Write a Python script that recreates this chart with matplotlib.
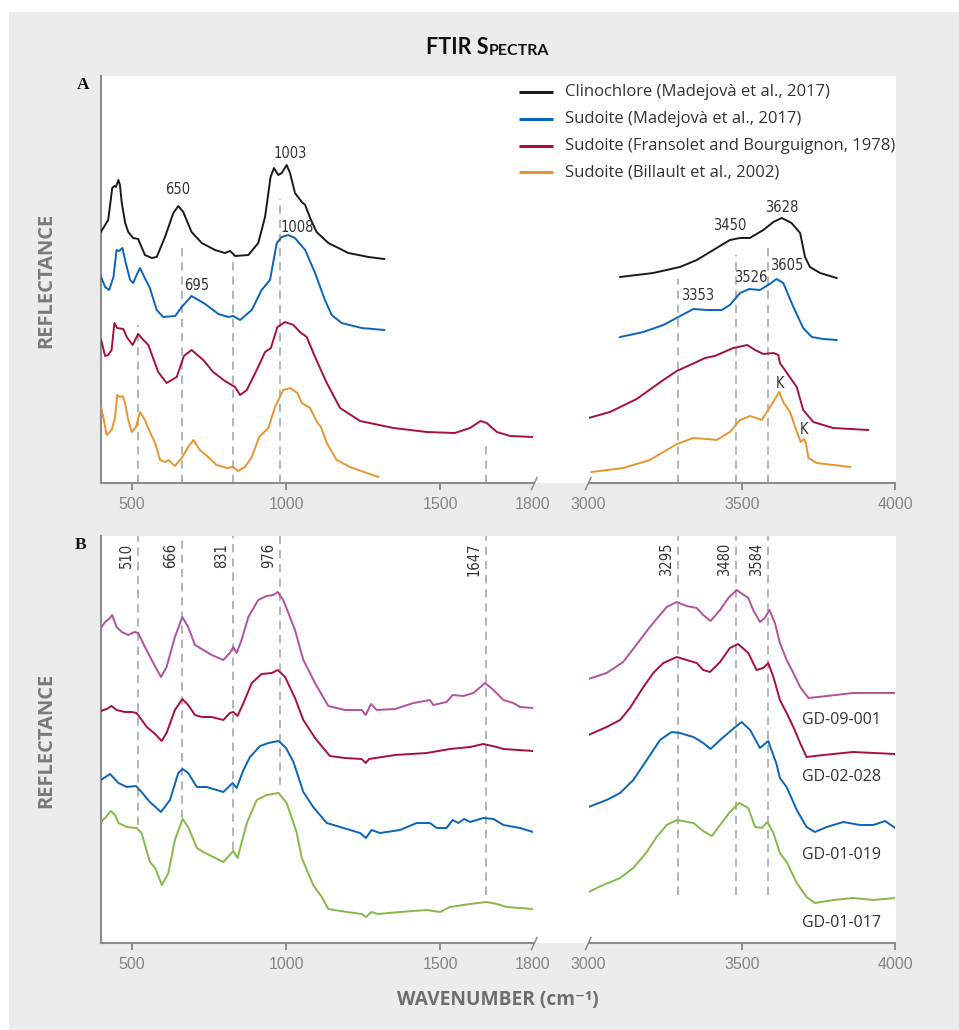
"""FTIR spectra of sudoite reference samples and GD samples (two panels, broken x axis)."""

import matplotlib
matplotlib.use("Agg")
import matplotlib.pyplot as plt
import numpy as np

# ── panel A: reference spectra (wavenumber, offset reflectance) ──────────────

CLINO_WN = [400, 424, 437, 444, 449, 457, 462, 468, 479, 489, 505, 521, 532, 543, 565, 581,
            608, 635, 651, 667, 694, 727, 770, 802, 819, 835, 878, 910, 932, 950, 961, 975,
            986, 1002, 1013, 1029, 1051, 1062, 1078, 1099, 1137, 1202, 1267, 1318,
            3103, 3211, 3298, 3353, 3407, 3461, 3494, 3526, 3570, 3603, 3630, 3662, 3690,
            3706, 3722, 3755, 3809]
CLINO_R = [251, 263, 295, 297, 296, 303, 298, 280, 260, 251, 245, 244, 236, 228, 225, 226,
           246, 270, 277, 271, 251, 240, 233, 230, 232, 227, 228, 240, 266, 306, 315, 308,
           310, 318, 310, 290, 281, 278, 265, 251, 240, 230, 226, 224,
           206, 210, 216, 223, 233, 243, 245, 245, 253, 261, 265, 260, 250,
           226, 216, 210, 205]

SUD_MAD_WN = [401, 414, 427, 441, 451, 459, 470, 481, 495, 505, 516, 527, 541, 559, 581, 602,
              641, 662, 694, 716, 738, 781, 813, 829, 851, 889, 921, 948, 970, 986, 1007, 1029,
              1062, 1094, 1126, 1148, 1180, 1245, 1318,
              3103, 3179, 3244, 3293, 3342, 3385, 3434, 3461, 3494, 3524, 3559, 3586, 3613,
              3635, 3668, 3700, 3728, 3766, 3809]
SUD_MAD_R = [206, 196, 193, 206, 233, 232, 235, 220, 203, 200, 208, 215, 206, 195, 173, 166,
             167, 176, 187, 183, 179, 169, 166, 167, 163, 173, 193, 203, 240, 246, 248, 245,
             233, 210, 183, 168, 160, 155, 153,
             146, 151, 158, 166, 174, 173, 173, 178, 190, 194, 193, 198, 204,
             200, 176, 155, 146, 144, 143]

SUD_FRA_WN = [401, 414, 424, 435, 444, 453, 473, 484, 503, 521, 532, 554, 586, 613, 646, 669,
              694, 732, 764, 802, 835, 851, 873, 905, 932, 951, 972, 997, 1024, 1045, 1067,
              1094, 1132, 1175, 1240, 1348, 1456, 1547, 1596, 1630, 1650, 1683, 1726, 1800,
              3000, 3070, 3157, 3244, 3288, 3331, 3380, 3412, 3472, 3518, 3543, 3570, 3603,
              3619, 3624, 3679, 3700, 3733, 3798, 3912]
SUD_FRA_R = [143, 127, 128, 133, 160, 155, 154, 146, 138, 149, 145, 138, 111, 100, 106, 127,
             133, 123, 111, 102, 96, 88, 93, 113, 131, 135, 156, 161, 158, 151, 146,
             126, 100, 75, 62, 55, 51, 50, 55, 62, 60, 51, 47, 46,
             65, 71, 84, 103, 112, 118, 125, 127, 135, 138, 133, 129, 130,
             128, 120, 96, 73, 61, 55, 53]

SUD_BIL_WN = [401, 408, 419, 435, 446, 453, 462, 471, 478, 489, 500, 514, 527, 543, 559, 576,
              592, 608, 619, 640, 662, 683, 700, 721, 748, 775, 808, 829, 845, 867, 889, 913,
              943, 964, 991, 1013, 1037, 1051, 1078, 1100, 1113, 1132, 1164, 1207, 1299,
              3010, 3113, 3200, 3288, 3342, 3386, 3418, 3461, 3494, 3527, 3565, 3592, 3622,
              3635, 3657, 3677, 3692, 3703, 3709, 3717, 3744, 3853]
SUD_BIL_R = [76, 66, 48, 53, 65, 88, 86, 87, 81, 63, 51, 56, 71, 63, 51, 40,
             23, 21, 23, 17, 25, 36, 43, 33, 26, 18, 15, 16, 12, 16, 26, 46,
             55, 76, 93, 95, 90, 80, 75, 61, 56, 40, 23, 16, 6,
             11, 15, 23, 39, 45, 44, 43, 51, 63, 67, 63, 76, 91,
             81, 71, 53, 41, 44, 40, 25, 20, 16]

REF_LABELS = ["Clinochlore (Madejovà et al., 2017)", "Sudoite (Madejovà et al., 2017)",
              "Sudoite (Fransolet and Bourguignon, 1978)", "Sudoite (Billault et al., 2002)"]

# peak labels in panel A: text, wavenumber, height
A_PEAK_TEXT = ["650", "1003", "1008", "695", "3450", "3628", "3353", "3526", "3605", "K", "K"]
A_PEAK_WN = [649, 1013, 1035, 711, 3459, 3630, 3355, 3530, 3646, 3624, 3704]
A_PEAK_R = [293, 329, 256, 198, 257, 276, 187, 205, 217, 100, 53]

# dashed guide lines in panel A: wavenumber and top of line
A_GUIDE_WN = [520, 664, 829, 980, 1647, 3292, 3480, 3584]
A_GUIDE_TOP = [158, 240, 223, 284, 41, 204, 228, 240]

# ── panel B: GD samples ──────────────────────────────────────────────────────

GD09_WN = [400, 414, 430, 437, 451, 468, 489, 509, 521, 543, 570, 595, 613, 640, 664, 683,
           705, 727, 759, 797, 818, 829, 840, 856, 878, 910, 937, 959, 973, 991, 1029, 1056,
           1094, 1137, 1191, 1245, 1258, 1275, 1294, 1353, 1413, 1466, 1477, 1520, 1540,
           1574, 1607, 1645, 1672, 1704, 1736, 1758, 1800,
           3000, 3059, 3113, 3168, 3200, 3255, 3288, 3320, 3353, 3374, 3398, 3429, 3456,
           3483, 3521, 3537, 3559, 3575, 3590, 3608, 3624, 3646, 3668, 3690, 3717, 3777,
           3863, 3929, 4000]
GD09_R = [315, 321, 325, 328, 316, 311, 308, 311, 310, 296, 280, 266, 276, 306, 326, 316,
          298, 294, 288, 283, 290, 296, 290, 303, 326, 343, 347, 348, 351, 343, 313, 283,
          260, 237, 233, 233, 228, 239, 233, 234, 240, 243, 238, 241, 248,
          247, 250, 260, 253, 243, 240, 236, 235,
          264, 270, 281, 303, 316, 336, 341, 337, 335, 328, 322, 333, 345,
          353, 345, 333, 321, 325, 333, 320, 300, 283, 270, 256, 245, 247,
          250, 250, 250]

GD02_WN = [400, 419, 435, 451, 478, 500, 516, 549, 576, 597, 613, 640, 664, 683, 705, 727,
           759, 797, 818, 829, 843, 862, 889, 921, 954, 973, 997, 1029, 1056, 1094, 1142,
           1191, 1245, 1258, 1269, 1353, 1456, 1531, 1596, 1639, 1683, 1704, 1800,
           3000, 3059, 3103, 3135, 3179, 3211, 3244, 3288, 3320, 3353, 3374, 3396, 3429,
           3461, 3488, 3521, 3548, 3570, 3586, 3603, 3624, 3646, 3668, 3690, 3711, 3766,
           3863, 4000]
GD02_R = [232, 234, 237, 233, 231, 231, 230, 216, 209, 202, 210, 233, 244, 238, 228, 226,
          226, 223, 230, 231, 227, 240, 260, 269, 270, 273, 266, 245, 223, 205, 187,
          185, 184, 180, 184, 188, 190, 194, 196, 199, 196, 194, 192,
          208, 216, 223, 235, 256, 270, 280, 286, 283, 280, 273, 271, 281,
          295, 299, 290, 273, 275, 280, 266, 243, 230, 216, 200, 186, 188,
          191, 189]

GD0119_WN = [400, 430, 457, 484, 514, 532, 559, 595, 624, 651, 665, 683, 711, 743, 797, 827,
             840, 862, 883, 916, 943, 976, 1000, 1024, 1056, 1088, 1132, 1186, 1240, 1259,
             1277, 1304, 1369, 1423, 1466, 1488, 1520, 1540, 1558, 1577, 1596, 1639, 1672,
             1704, 1758, 1800,
             3000, 3059, 3103, 3146, 3190, 3233, 3271, 3298, 3342, 3374, 3398, 3429, 3467,
             3499, 3527, 3559, 3586, 3613, 3624, 3646, 3679, 3711, 3738, 3777, 3831, 3885,
             3929, 3967, 4000]
GD0119_R = [163, 169, 160, 156, 157, 151, 141, 131, 143, 170, 174, 170, 156, 156, 151, 160,
            155, 173, 186, 197, 200, 202, 195, 181, 151, 136, 120, 115, 110, 105,
            113, 110, 113, 120, 120, 115, 115, 123, 120, 124, 121, 125, 124,
            118, 115, 111,
            136, 143, 150, 163, 183, 203, 211, 210, 206, 200, 194, 203, 213,
            221, 213, 195, 202, 179, 165, 156, 133, 116, 111, 116, 121, 118,
            118, 122, 115]

GD0117_WN = [400, 414, 432, 446, 457, 484, 516, 532, 559, 576, 598, 619, 640, 665, 683, 711,
             732, 764, 797, 829, 843, 873, 905, 937, 976, 1002, 1034, 1051, 1088, 1116, 1137,
             1197, 1245, 1259, 1277, 1299, 1369, 1456, 1499, 1531, 1596, 1650, 1683, 1715,
             1800,
             3000, 3048, 3103, 3146, 3190, 3222, 3255, 3288, 3342, 3374, 3402, 3429, 3461,
             3491, 3521, 3543, 3565, 3583, 3603, 3624, 3646, 3679, 3711, 3738, 3798, 3863,
             3929, 4000]
GD0117_R = [121, 125, 132, 128, 120, 116, 115, 110, 81, 75, 58, 70, 103, 124, 116, 95,
            91, 86, 81, 92, 85, 120, 143, 148, 150, 140, 111, 85, 58, 46, 34,
            31, 29, 26, 31, 29, 31, 33, 31, 36, 39, 41, 39, 36,
            34,
            51, 58, 65, 75, 91, 106, 118, 123, 120, 112, 107, 118, 131,
            140, 135, 116, 115, 121, 110, 90, 81, 60, 46, 40, 43, 45,
            43, 45]

GD_LABELS = ["GD-09-001", "GD-02-028", "GD-01-019", "GD-01-017"]
GD_LABEL_R = [223, 166, 88, 20]
GD_LABEL_WN = 3696

# dashed guide lines in panel B: label, wavenumber, bottom of line
B_GUIDE_TEXT = ["510", "666", "831", "976", "1647", "3295", "3480", "3584"]
B_GUIDE_WN = [520, 664, 829, 980, 1647, 3292, 3480, 3584]
B_GUIDE_BOTTOM = [118, 125, 93, 158, 48, 48, 48, 48]

# ── style ────────────────────────────────────────────────────────────────────

W, H = 959, 1030
REF_COLORS = ["#1a1a1a", "#0a64b8", "#a6113b", "#e8952f"]
GD_COLORS = ["#b0529c", "#a6113b", "#0a64b8", "#86b849"]
GRAY_BG = "#ececec"
AXIS_GRAY = "#8c8c8c"
TEXT_DARK = "#333333"
SOFT = ["Open Sans", "DejaVu Sans"]
NARROW = dict(family="DejaVu Sans", fontstretch="condensed")

fig = plt.figure(figsize=(W / 100, H / 100), dpi=100)
fig.patch.set_facecolor("white")

# background in pixel coordinates
bg = fig.add_axes([0, 0, 1, 1], zorder=-5)
bg.set_xlim(0, W)
bg.set_ylim(H, 0)
bg.axis("off")
bg.add_patch(plt.Rectangle((9, 12), W, H, color=GRAY_BG, lw=0))
for top in (76, 536):
    bg.add_patch(plt.Rectangle((100, top), 796, 407, color="white", lw=0))

# overlay for free text in pixel coordinates
ov = fig.add_axes([0, 0, 1, 1], zorder=5)
ov.set_xlim(0, W)
ov.set_ylim(H, 0)
ov.axis("off")

X_L0, X_L1 = 100.8, 533.0   # 400 .. 1800
X_R0, X_R1 = 588.5, 895.2   # 3000 .. 4000


def make_axes(bottom_px):
    h = 407 / H
    y0 = (H - bottom_px) / H
    ax_l = fig.add_axes([X_L0 / W, y0, (X_L1 - X_L0) / W, h])
    ax_r = fig.add_axes([X_R0 / W, y0, (X_R1 - X_R0) / W, h])
    for ax in (ax_l, ax_r):
        ax.set_facecolor("none")
        ax.set_ylim(0, 407)
        ax.set_yticks([])
        for s in ("top", "right", "left"):
            ax.spines[s].set_visible(False)
        ax.spines["bottom"].set_color(AXIS_GRAY)
        ax.spines["bottom"].set_linewidth(1.5)
        ax.tick_params(axis="x", direction="out", length=5, width=1.4, color=AXIS_GRAY,
                       labelcolor="#858585", labelsize=11.5, pad=5,
                       labelfontfamily="Liberation Sans")
    ax_l.spines["left"].set_visible(True)
    ax_l.spines["left"].set_color(AXIS_GRAY)
    ax_l.spines["left"].set_linewidth(1.5)
    ax_l.set_xlim(400, 1800)
    ax_r.set_xlim(3000, 4000)
    ax_l.set_xticks([500, 1000, 1500, 1800])
    ax_r.set_xticks([3000, 3500, 4000])
    ax_l.xaxis.get_major_ticks()[-1].tick1line.set_visible(False)
    ax_r.xaxis.get_major_ticks()[0].tick1line.set_visible(False)
    # break marks
    dy = bottom_px
    ov.plot([X_L1 - 1.5, X_L1 + 4], [dy + 6.5, dy - 5.5], color=AXIS_GRAY, lw=1.1)
    ov.plot([X_R0 - 3, X_R0 + 2.5], [dy + 6.5, dy - 5.5], color=AXIS_GRAY, lw=1.1)
    return ax_l, ax_r


def draw(ax_l, ax_r, wn, r, color):
    wn = np.asarray(wn)
    r = np.asarray(r)
    m = wn < 2400
    ax_l.plot(wn[m], r[m], color=color, lw=1.4, zorder=3, solid_joinstyle="round")
    ax_r.plot(wn[~m], r[~m], color=color, lw=1.4, zorder=3, solid_joinstyle="round")


def pick(ax_l, ax_r, x):
    return ax_l if x < 2400 else ax_r


DASH = dict(colors="#a8a8a8", linestyles=(0, (5, 3.5)), linewidth=1.2, zorder=1)

# ── panel A ──────────────────────────────────────────────────────────────────

aA_l, aA_r = make_axes(483)
for x, top in zip(A_GUIDE_WN, A_GUIDE_TOP):
    pick(aA_l, aA_r, x).vlines(x, 0, top, **DASH)
for (wn, r), c in zip([(CLINO_WN, CLINO_R), (SUD_MAD_WN, SUD_MAD_R),
                       (SUD_FRA_WN, SUD_FRA_R), (SUD_BIL_WN, SUD_BIL_R)], REF_COLORS):
    draw(aA_l, aA_r, wn, r, c)
for t, x, y in zip(A_PEAK_TEXT, A_PEAK_WN, A_PEAK_R):
    pick(aA_l, aA_r, x).text(x, y, t, ha="center", va="center", fontsize=10.5,
                             color=TEXT_DARK, zorder=4, **NARROW)

# legend
for i, (lab, c) in enumerate(zip(REF_LABELS, REF_COLORS)):
    y = 92.3 + i * 26.6
    ov.plot([519, 553], [y, y], color=c, lw=2.2, solid_capstyle="butt")
    ov.text(565, y, lab, ha="left", va="center", fontsize=12, color=TEXT_DARK, family=SOFT)

# ── panel B ──────────────────────────────────────────────────────────────────

aB_l, aB_r = make_axes(943)
for t, x, b in zip(B_GUIDE_TEXT, B_GUIDE_WN, B_GUIDE_BOTTOM):
    ax = pick(aB_l, aB_r, x)
    ax.vlines(x, b, 407, **DASH)
    ax.annotate(t, (x, 400), xytext=(-4, 0), textcoords="offset pixels", rotation=90,
                ha="right", va="top", fontsize=10.5, color=TEXT_DARK, **NARROW)
for (wn, r), c in zip([(GD09_WN, GD09_R), (GD02_WN, GD02_R),
                       (GD0119_WN, GD0119_R), (GD0117_WN, GD0117_R)], GD_COLORS):
    draw(aB_l, aB_r, wn, r, c)
for lab, y in zip(GD_LABELS, GD_LABEL_R):
    aB_r.text(GD_LABEL_WN, y, lab, ha="left", va="center", fontsize=11.5,
              color=TEXT_DARK, family=SOFT)

# ── titles ───────────────────────────────────────────────────────────────────

TITLE_FONT = ["Lato", "DejaVu Sans"]
t1 = ov.text(426, 54, "FTIR S", ha="left", va="baseline", fontsize=15.5, fontweight="bold",
             color="#111111", family=TITLE_FONT)
ov.annotate("PECTRA", xy=(1, 0), xycoords=t1, va="bottom", ha="left", fontsize=11.5,
            fontweight="bold", color="#111111", family=TITLE_FONT)
ov.text(83, 85, "A", ha="center", va="center", fontsize=12.5, fontweight="bold",
        family="Liberation Serif", color="#111111")
ov.text(81, 545, "B", ha="center", va="center", fontsize=12.5, fontweight="bold",
        family="Liberation Serif", color="#111111")
for yc in (280, 740):
    ov.text(46, yc, "REFLECTANCE", rotation=90, ha="center", va="center", fontsize=14.5,
            fontweight="bold", color="#7a7a7a", family=SOFT)
ov.text(498, 1000, "WAVENUMBER (cm⁻¹)", ha="center", va="center", fontsize=13.8,
        fontweight="bold", color="#6e6e6e", family=SOFT)

fig.savefig("out.png", dpi=100, facecolor="white")
